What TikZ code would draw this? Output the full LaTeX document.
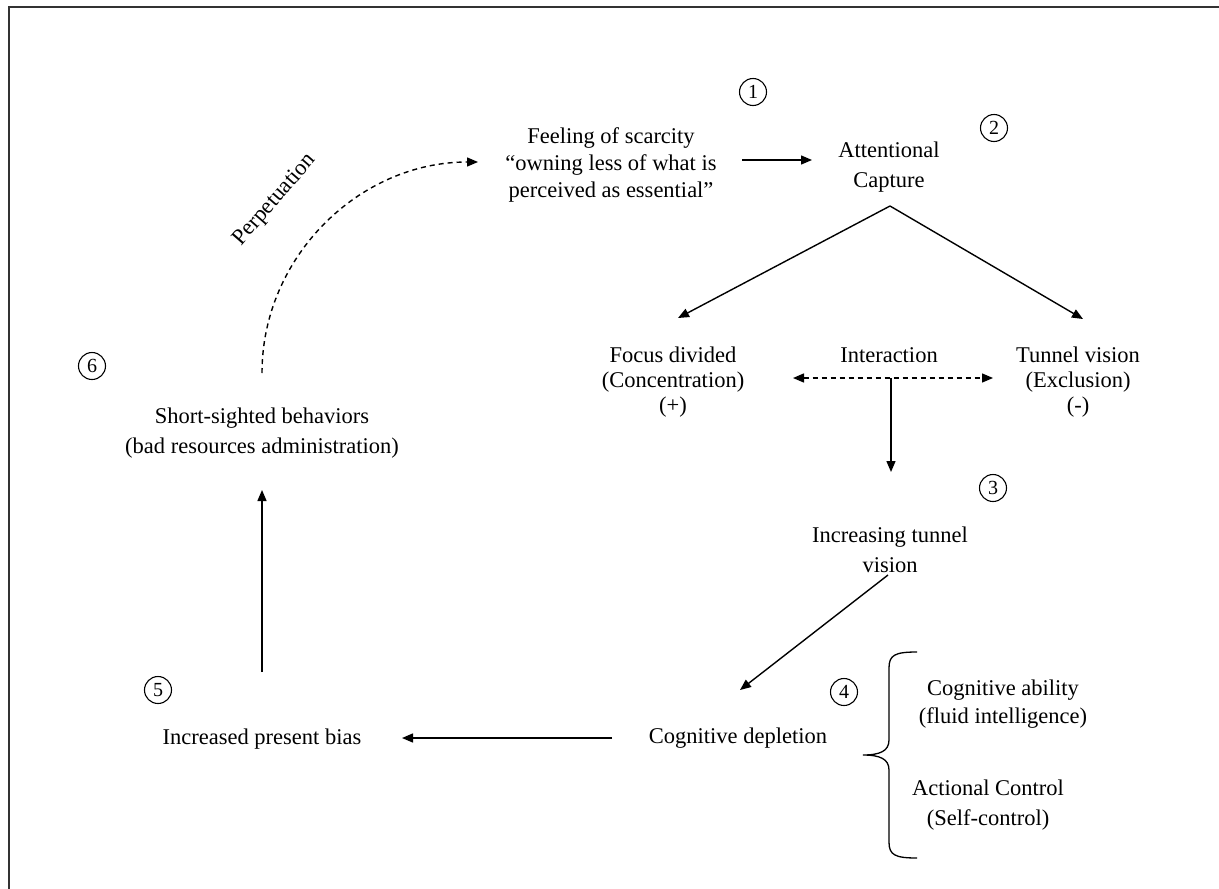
\documentclass[tikz,border=0pt]{standalone}
\usepackage{fontspec}
\setmainfont{Liberation Serif}
\usetikzlibrary{arrows.meta}
\begin{document}
\begin{tikzpicture}[x=1pt,y=-1pt,
  lbl/.style={font=\fontsize{22.5}{27}\selectfont, align=center, inner sep=0pt},
  lblw/.style={lbl, font=\fontsize{22.5}{30}\selectfont},
  lbln/.style={lbl, font=\fontsize{22.5}{25}\selectfont},
  num/.style={circle, draw, line width=1.1pt, inner sep=0pt, minimum size=27pt, font=\fontsize{20}{20}\selectfont},
  arr/.style={line width=1.4pt, -{Triangle[length=11pt,width=9pt]}},
  darr/.style={line width=1.4pt, dash pattern=on 5pt off 4pt},
  tip/.style={-{Triangle[length=11pt,width=9pt]}},
]
\useasboundingbox (0,0) rectangle (1219,889);
\fill[white] (0,0) rectangle (1219,889);
% frame
\draw[line width=1.3pt, black!80] (9,889) -- (9,7) -- (1219,7);

% text nodes
\node[lbl] (feel) at (611,165) {Feeling of scarcity\\“owning less of what is\\perceived as essential”};
\node[lblw] (att) at (889,167) {Attentional\\Capture};
\node[lbln] (focus) at (673,382) {Focus divided\\(Concentration)\\(+)};
\node[lbl] (inter) at (889,355) {Interaction};
\node[lbln] (tunnel) at (1078,382) {Tunnel vision\\(Exclusion)\\(-)};
\node[lblw] (inc) at (890,550) {Increasing tunnel\\vision};
\node[lbl] (depl) at (738,738) {Cognitive depletion};
\node[lbl] (bias) at (262,739) {Increased present bias};
\node[lblw] (short) at (262,433) {Short-sighted behaviors\\(bad resources administration)};
\node[lbl, font=\fontsize{22.5}{28}\selectfont] (cab) at (1003,704) {Cognitive ability\\(fluid intelligence)};
\node[lblw] (act) at (988,805) {Actional Control\\(Self-control)};
\node[lbl, rotate=49] (perp) at (275,200) {Perpetuation};

% circled numbers
\node[num] (n1) at (753,92) {1};
\node[num] (n2) at (994,128) {2};
\node[num] (n3) at (993,488) {3};
\node[num] (n4) at (844,692) {4};
\node[num] (n5) at (158,690) {5};
\node[num] (n6) at (92,366) {6};

% connector end points
\coordinate (feelE) at (742,160);
\coordinate (attW) at (812,160);
\coordinate (attS) at (890,206);
\coordinate (focusN) at (678,318);
\coordinate (tunnelN) at (1083,319);
\coordinate (interL) at (793,378);
\coordinate (interR) at (993,378);
\coordinate (interM) at (891,378);
\coordinate (incN) at (891,472);
\coordinate (incS) at (888,575);
\coordinate (deplN) at (740,690);
\coordinate (deplW) at (612,738);
\coordinate (biasE) at (402,738);
\coordinate (biasN) at (262,672);
\coordinate (shortS) at (262,490);
\coordinate (shortN) at (262,373);
\coordinate (feelW) at (478,162);

% connectors
\draw[arr] (feelE) -- (attW);
\draw[arr] (attS) -- (focusN);
\draw[arr] (attS) -- (tunnelN);
\draw[darr, {Triangle[length=11pt,width=9pt]}-{Triangle[length=11pt,width=9pt]}] (interL) -- (interR);
\draw[arr] (interM) -- (incN);
\draw[arr] (incS) -- (deplN);
\draw[arr] (deplW) -- (biasE);
\draw[arr] (biasN) -- (shortS);
\draw[darr, tip] (shortN) .. controls (262,257) and (359,162) .. (feelW);

% brace
\draw[line width=1.3pt] (917,652) .. controls (895,652) and (889,655) .. (889,668)
  -- (889,740) .. controls (889,751) and (880,755) .. (863,755)
  .. controls (880,755) and (889,759) .. (889,770)
  -- (889,842) .. controls (889,855) and (895,858) .. (917,858);
\end{tikzpicture}
\end{document}
